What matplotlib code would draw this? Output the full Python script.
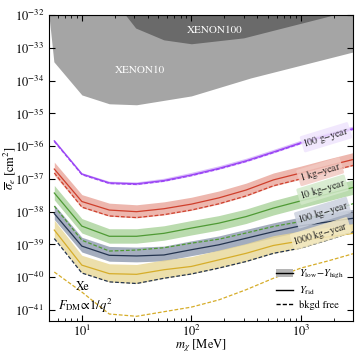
import numpy as np
import matplotlib
matplotlib.use("Agg")
import matplotlib.pyplot as plt
from matplotlib.patches import Patch
from matplotlib.lines import Line2D

plt.rcParams['font.family'] = 'serif'
plt.rcParams['font.serif'] = ['STIXGeneral']
plt.rcParams['mathtext.fontset'] = 'stix'

# DM masses [MeV]
mass = [5.6, 10, 17.8, 31.6, 56.2, 100, 178, 316, 562, 1000, 1778, 3162]

# log10 of cross section [cm^2]
g100_fid = [-35.84, -36.85, -37.12, -37.15, -37.05, -36.88, -36.68, -36.45, -36.18, -35.90, -35.66, -35.45]
g100_hi = [-35.80, -36.81, -37.07, -37.09, -36.98, -36.80, -36.60, -36.37, -36.10, -35.82, -35.58, -35.37]
g100_lo = [-35.87, -36.88, -37.15, -37.18, -37.08, -36.91, -36.71, -36.48, -36.21, -35.93, -35.69, -35.48]
g100_free = [-35.86, -36.87, -37.14, -37.17, -37.07, -36.90, -36.70, -36.47, -36.20, -35.92, -35.68, -35.47]

kg1_fid = [-36.70, -37.69, -37.95, -38.00, -37.91, -37.77, -37.58, -37.34, -37.03, -36.82, -36.60, -36.39]
kg1_hi = [-36.49, -37.48, -37.74, -37.79, -37.70, -37.56, -37.37, -37.13, -36.82, -36.61, -36.39, -36.18]
kg1_lo = [-36.89, -37.88, -38.14, -38.19, -38.10, -37.96, -37.77, -37.53, -37.22, -37.01, -36.79, -36.58]
kg1_free = [-36.82, -37.86, -38.13, -38.18, -38.09, -37.95, -37.76, -37.52, -37.21, -37.00, -36.78, -36.57]

kg10_fid = [-37.43, -38.44, -38.75, -38.75, -38.66, -38.50, -38.35, -38.15, -37.89, -37.67, -37.46, -37.24]
kg10_hi = [-37.20, -38.21, -38.52, -38.52, -38.43, -38.27, -38.12, -37.92, -37.66, -37.44, -37.23, -37.01]
kg10_lo = [-37.64, -38.65, -38.96, -38.96, -38.87, -38.71, -38.56, -38.36, -38.10, -37.88, -37.67, -37.45]
kg10_free = [-37.83, -38.87, -39.20, -39.17, -39.10, -38.96, -38.84, -38.65, -38.45, -38.30, -38.01, -37.73]

kg100_fid = [-38.06, -39.05, -39.33, -39.35, -39.32, -39.16, -39.01, -38.81, -38.61, -38.43, -38.31, -38.19]
kg100_hi = [-37.79, -38.78, -39.06, -39.08, -39.05, -38.89, -38.74, -38.54, -38.34, -38.16, -38.04, -37.92]
kg100_lo = [-38.24, -39.23, -39.51, -39.53, -39.50, -39.34, -39.19, -38.99, -38.79, -38.61, -38.49, -38.37]
kg100_free = [-38.82, -39.87, -40.14, -40.19, -40.03, -39.90, -39.72, -39.52, -39.27, -39.11, -38.86, -38.59]

kg1000_fid = [-38.56, -39.63, -39.89, -39.91, -39.77, -39.67, -39.47, -39.27, -39.03, -38.89, -38.77, -38.65]
kg1000_hi = [-38.26, -39.33, -39.59, -39.61, -39.47, -39.37, -39.17, -38.97, -38.73, -38.59, -38.47, -38.35]
kg1000_lo = [-38.82, -39.87, -40.14, -40.19, -40.03, -39.90, -39.72, -39.52, -39.27, -39.11, -38.86, -38.59]
kg1000_free = [-39.84, -40.45, -41.12, -41.19, -41.05, -40.91, -40.69, -40.38, -40.03, -39.72, -39.50, -39.26]

# existing limits
xe10_mass = [5.0, 5.55, 10, 17.8, 31.6, 100, 350, 3000]
xe10_lim = [-32.0, -33.43, -34.44, -34.71, -34.74, -34.47, -33.92, -33.13]
xe100_mass = [25, 31, 56, 100, 300, 2000]
xe100_lim = [-32.0, -32.40, -32.76, -32.88, -32.70, -32.0]

curves = [
    ("100 g$-$year", g100_fid, g100_hi, g100_lo, g100_free, '#9b45f5', '#d2aefa', '#efe4fd', 1700, -35.73),
    ("1 kg$-$year", kg1_fid, kg1_hi, kg1_lo, kg1_free, '#cf3f2c', '#e9a59a', '#f2c9c2', 1500, -36.78),
    ("10 kg$-$year", kg10_fid, kg10_hi, kg10_lo, kg10_free, '#4f9a35', '#a9d29a', '#d3e9ca', 1580, -37.33),
    ("100 kg$-$year", kg100_fid, kg100_hi, kg100_lo, kg100_free, '#24344f', '#8e99ae', '#ccd2de', 1580, -38.03),
    ("1000 kg$-$year", kg1000_fid, kg1000_hi, kg1000_lo, kg1000_free, '#d6ad2a', '#e8d796', '#f3e9c2', 1520, -38.67),
]


def main():
    fig = plt.figure(figsize=(3.57, 3.55), dpi=100)
    ax = fig.add_axes([0.137, 0.097, 0.852, 0.861])

    ax.fill_between(xe10_mass, 10**np.array(xe10_lim), 1e-32, color='#a5a5a5', lw=0, zorder=1)
    ax.fill_between(xe100_mass, 10**np.array(xe100_lim), 1e-32, color='#6a6a6a', lw=0, zorder=1)
    ax.text(34, 10**-33.68, "XENON10", color='white', fontsize=8, ha='center', va='center')
    ax.text(165, 10**-32.46, "XENON100", color='white', fontsize=8, ha='center', va='center')

    m = np.array(mass)
    for (lab, fid, hi, lo, free, c, cb, cbox, lx, ly) in curves:
        ax.fill_between(m, 10**np.array(lo), 10**np.array(hi), color=cb, alpha=0.8, lw=0, zorder=2)
        ax.plot(m, 10**np.array(fid), color=c, lw=0.9, zorder=3)
        ax.plot(m, 10**np.array(free), color=c, lw=0.9, ls=(0, (3, 1.5)), zorder=3)
        ax.text(lx, 10**ly, lab, fontsize=7, rotation=17, ha='center', va='center',
                color='#222222', zorder=4,
                bbox=dict(boxstyle='round,pad=0.15', fc=cbox, ec='none', alpha=0.85))

    ax.text(0.09, 0.1, "Xe", transform=ax.transAxes, fontsize=8.5)
    ax.text(0.03, 0.035, r"$F_{\rm DM}\!\propto\!1/q^2$", transform=ax.transAxes, fontsize=9)

    ax.set_xscale('log')
    ax.set_yscale('log')
    ax.set_xlim(5, 3000)
    ax.set_ylim(10**-41.32, 1e-32)
    ax.set_yticks([10.0**k for k in range(-41, -31)])
    ax.yaxis.set_minor_locator(matplotlib.ticker.NullLocator())
    ax.tick_params(which='both', direction='in', top=True, right=True, labelsize=9)
    ax.tick_params(which='major', length=4)
    ax.tick_params(which='minor', length=2)
    ax.tick_params(axis='x', pad=2.5)
    ax.set_xlabel(r"$m_\chi$ [MeV]", fontsize=9, labelpad=-1)
    ax.set_ylabel(r"$\overline{\sigma}_e$ [cm$^2$]", fontsize=9, labelpad=-2)

    handles = [(Patch(color='#b5b5b5', lw=0), Line2D([], [], color='k', lw=1)),
               Line2D([], [], color='k', lw=1),
               Line2D([], [], color='k', lw=1, ls=(0, (3, 1.5)))]
    labels = [r"$Y_{\rm low}$$-$$Y_{\rm high}$", r"$Y_{\rm fid}$", "bkgd free"]
    ax.legend(handles, labels, loc='lower right', bbox_to_anchor=(1.0, 0.005), frameon=False,
              fontsize=7.5, handlelength=1.6, handletextpad=0.6, labelspacing=0.3)

    fig.savefig("out.png", dpi=100)


if __name__ == '__main__':
    main()
